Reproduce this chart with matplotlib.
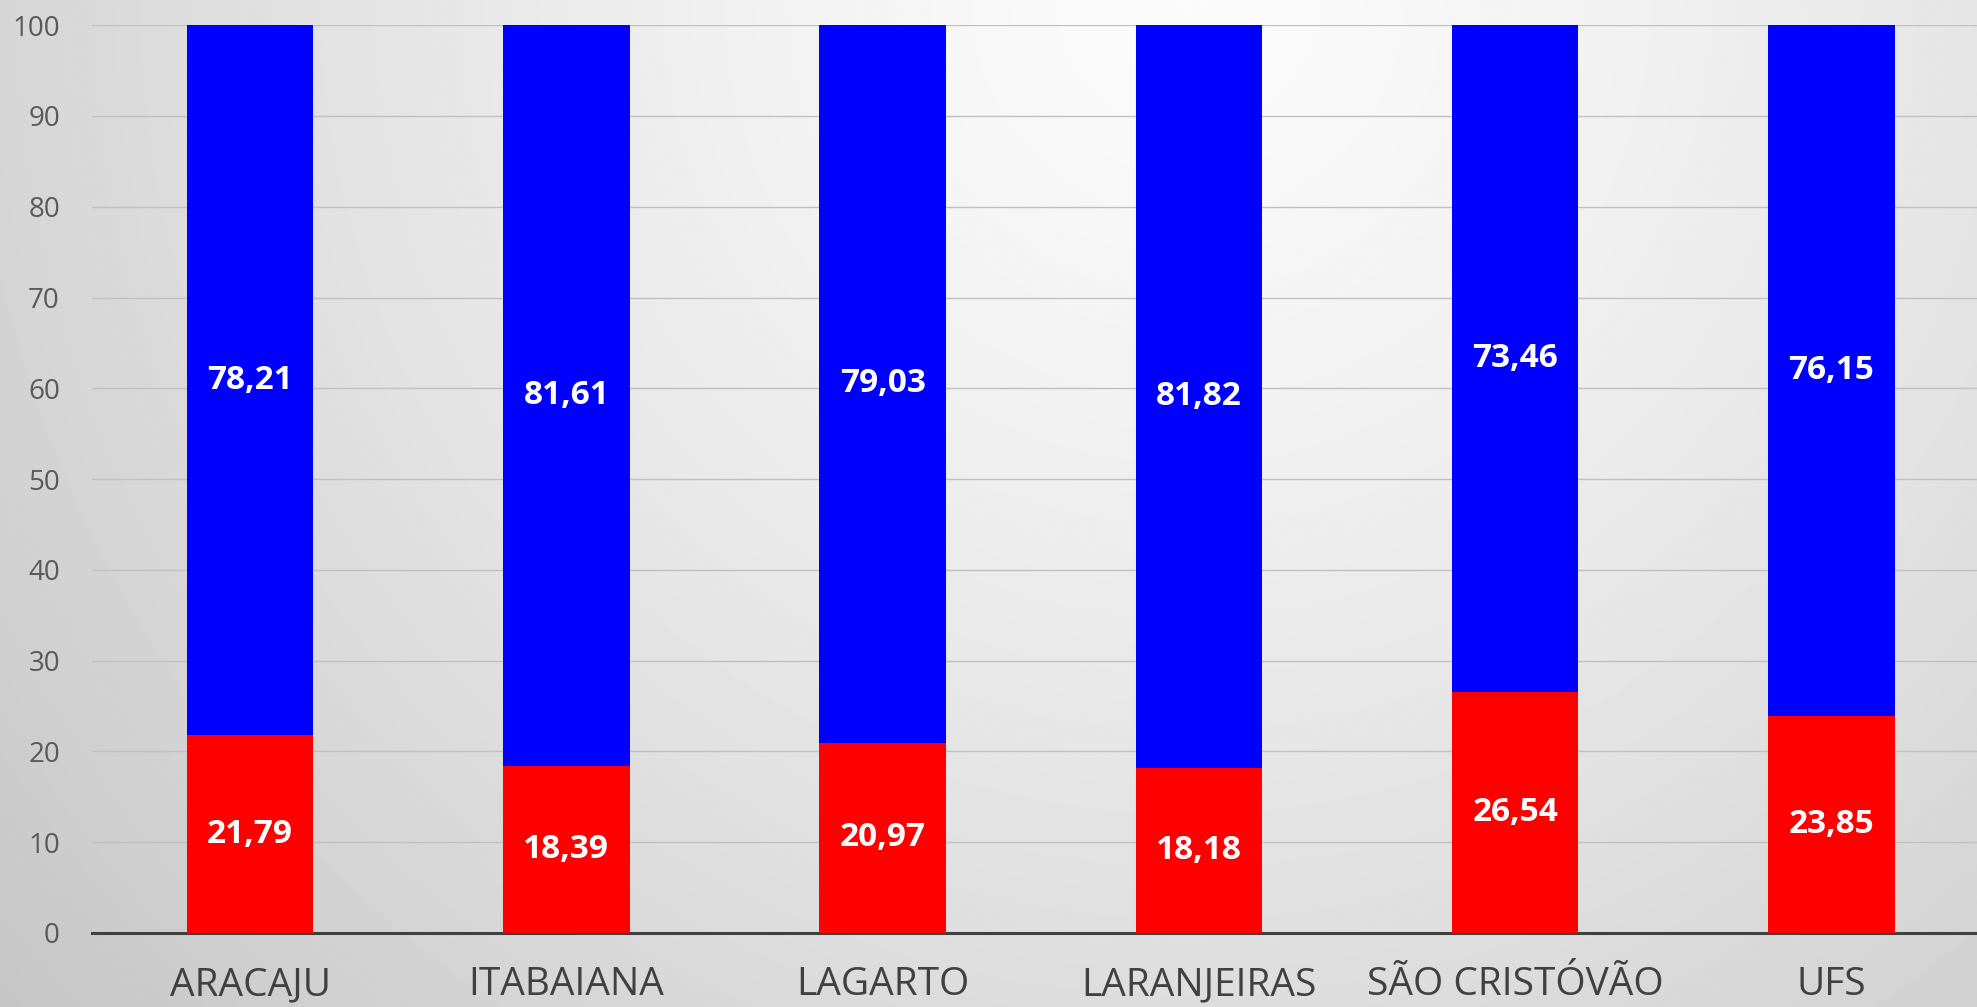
import numpy as np
import matplotlib
matplotlib.use("Agg")
import matplotlib.pyplot as plt

plt.rcParams['font.family'] = ['Open Sans', 'DejaVu Sans']

# Dados
campi = ['ARACAJU', 'ITABAIANA', 'LAGARTO', 'LARANJEIRAS', 'SÃO CRISTÓVÃO', 'UFS']
vermelho = [21.79, 18.39, 20.97, 18.18, 26.54, 23.85]
azul = [78.21, 81.61, 79.03, 81.82, 73.46, 76.15]

fig = plt.figure(figsize=(19.77, 10.07), dpi=100)

# Fundo com gradiente radial (cinza claro no topo, mais escuro nas bordas)
bg = fig.add_axes([0, 0, 1, 1], zorder=-10)
h, w = 400, 800
yy, xx = np.mgrid[0:h, 0:w]
dx = (xx / w - 0.6) * 1.96
dy = (yy / h) * 1.0
r = np.sqrt(dx ** 2 + dy ** 2)
r = r / r.max()
nivel = 0.985 - 0.21 * r ** 1.3
bg.imshow(nivel, cmap='gray', vmin=0, vmax=1, aspect='auto', extent=[0, 1, 0, 1],
          interpolation='bilinear')
bg.axis('off')

ax = fig.add_axes([0.0465, 0.0735, 0.9535, 0.9015])
ax.patch.set_alpha(0)

x = np.arange(len(campi))
largura = 0.4
b1 = ax.bar(x, vermelho, largura, color='#ff0000', zorder=3)
b2 = ax.bar(x, azul, largura, bottom=vermelho, color='#0000ff', zorder=3)

fmt = lambda v: f'{v:.2f}'.replace('.', ',')
ax.bar_label(b1, labels=[fmt(v) for v in vermelho], label_type='center',
             color='white', fontsize=24, fontweight='bold', zorder=4)
ax.bar_label(b2, labels=[fmt(v) for v in azul], label_type='center',
             color='white', fontsize=24, fontweight='bold', zorder=4)

ax.set_ylim(0, 100)
ax.set_xlim(-0.5, 5.46)
ax.set_yticks(range(0, 101, 10))
ax.set_xticks(x)
ax.set_xticklabels(campi)

ax.yaxis.grid(True, color='#c0c0c0', linewidth=1.0, zorder=0)
ax.set_axisbelow(True)
for lado in ['top', 'right', 'left']:
    ax.spines[lado].set_visible(False)
ax.spines['bottom'].set_color('#404040')
ax.spines['bottom'].set_linewidth(2.2)

ax.tick_params(axis='y', length=0, pad=23, labelsize=20, labelcolor='#595959')
ax.tick_params(axis='x', length=0, pad=24, labelsize=28, labelcolor='#404040')

fig.savefig('out.png', dpi=100)
